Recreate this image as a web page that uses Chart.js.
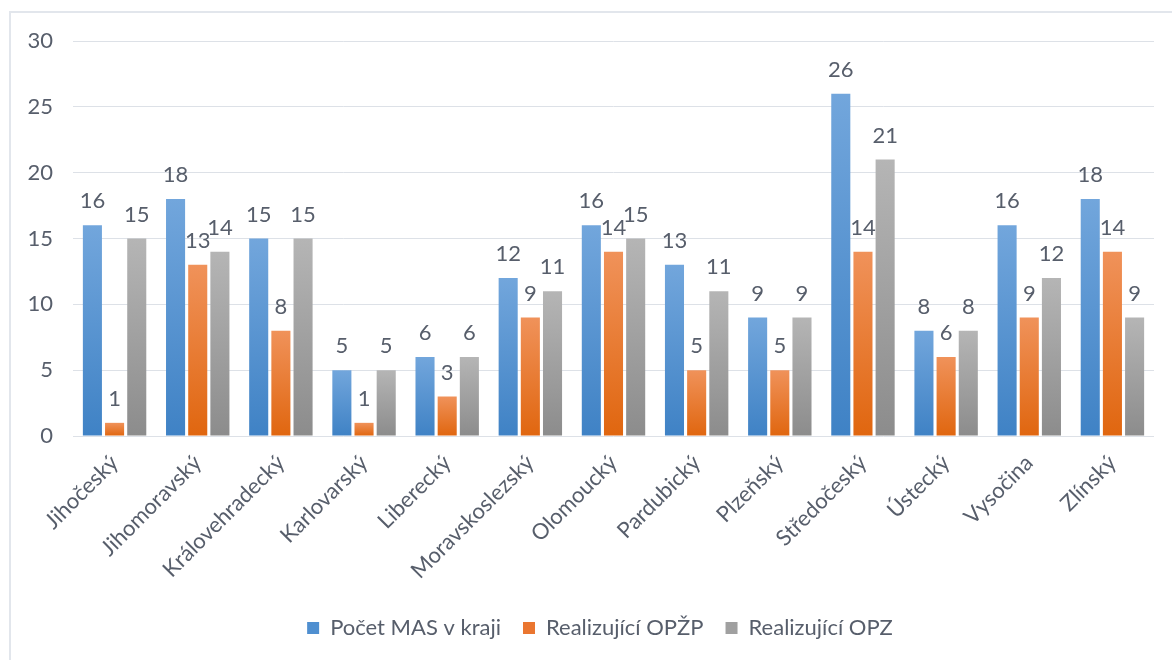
<!DOCTYPE html>
<html>
<head>
<meta charset="utf-8">
<script src="https://cdn.jsdelivr.net/npm/chart.js@4"></script>
<style>
  body { margin: 0; background: #fff; }
  #wrap { position: relative; width: 1172px; height: 660px; overflow: hidden; }
  #frame { position: absolute; left: 9px; top: 11px; width: 2000px; height: 2000px;
           border-left: 2px solid #e2e6ec; border-top: 2px solid #e2e6ec; }
  canvas { position: absolute; left: 0; top: 0; }
</style>
</head>
<body>
<div id="wrap">
  <div id="frame"></div>
  <canvas id="masChart" width="1172" height="660"></canvas>
</div>
<script>
var kraje = ['Jihočeský', 'Jihomoravský', 'Královehradecký', 'Karlovarský', 'Liberecký',
  'Moravskoslezský', 'Olomoucký', 'Pardubický', 'Plzeňský', 'Středočeský', 'Ústecký',
  'Vysočina', 'Zlínský'];
var pocetMas = [16, 18, 15, 5, 6, 12, 16, 13, 9, 26, 8, 16, 18];
var opzp = [1, 13, 8, 1, 3, 9, 14, 5, 5, 14, 6, 9, 14];
var opz = [15, 14, 15, 5, 6, 11, 15, 11, 9, 21, 8, 12, 9];
var yTicks = [0, 5, 10, 15, 20, 25, 30];

var textColor = '#575e6b';

// gradient per bar, light at the top, darker at the base
function barGradient(top, bottom) {
  return function (c) {
    var chart = c.chart;
    if (!chart.chartArea || c.raw === undefined) return bottom;
    var y = chart.scales.y;
    var g = chart.ctx.createLinearGradient(0, y.getPixelForValue(c.raw), 0, y.getPixelForValue(0));
    g.addColorStop(0, top);
    g.addColorStop(1, bottom);
    return g;
  };
}

var valueLabels = {
  id: 'valueLabels',
  afterDatasetsDraw: function (chart) {
    var ctx = chart.ctx;
    ctx.save();
    ctx.font = '22px Lato';
    ctx.fillStyle = textColor;
    ctx.textAlign = 'center';
    ctx.textBaseline = 'alphabetic';
    chart.data.datasets.forEach(function (ds, i) {
      chart.getDatasetMeta(i).data.forEach(function (bar, j) {
        ctx.fillText(ds.data[j], bar.x, bar.y - 17);
      });
    });
    ctx.restore();
  }
};

// legend sits a bit right of the canvas centre in the original
var legendShift = {
  id: 'legendShift',
  afterLayout: function (chart) {
    chart.legend.left += 23;
    chart.legend.right += 23;
  }
};

var ctx = document.getElementById('masChart').getContext('2d');
var chart = new Chart(ctx, {
  type: 'bar',
  data: {
    labels: kraje,
    datasets: [{
      label: 'Počet MAS v kraji',
      data: pocetMas,
      backgroundColor: barGradient('#72a6dc', '#3f82c5')
    }, {
      label: 'Realizující OPŽP',
      data: opzp,
      backgroundColor: barGradient('#f0925a', '#e0660f')
    }, {
      label: 'Realizující OPZ',
      data: opz,
      backgroundColor: barGradient('#b5b5b5', '#8c8c8c')
    }]
  },
  options: {
    responsive: false,
    animation: false,
    layout: { padding: { top: 41, right: 18, bottom: 11, left: 0 } },
    categoryPercentage: 0.8,
    barPercentage: 0.86,
    scales: {
      x: {
        grid: { display: false },
        border: { display: false },
        ticks: {
          color: textColor,
          font: { family: 'Lato', size: 22 },
          maxRotation: 45,
          minRotation: 45,
          padding: 6,
          autoSkip: false
        },
        afterFit: function (scale) { scale.height = 159; }
      },
      y: {
        min: 0,
        max: 30,
        afterBuildTicks: function (scale) {
          scale.ticks = yTicks.map(function (v) { return { value: v }; });
        },
        grid: { color: '#dde1e7', drawTicks: false },
        border: { display: false },
        ticks: {
          color: textColor,
          font: { family: 'Lato', size: 22 },
          padding: 20
        },
        afterFit: function (scale) { scale.width = 73; }
      }
    },
    plugins: {
      legend: {
        position: 'bottom',
        labels: {
          color: textColor,
          font: { family: 'Lato', size: 22 },
          boxWidth: 12,
          boxHeight: 12,
          padding: 22,
          generateLabels: function (chart) {
            var cols = ['#4f8fd0', '#ea7630', '#a0a0a0'];
            return chart.data.datasets.map(function (ds, i) {
              return { text: ds.label, fillStyle: cols[i], strokeStyle: cols[i], lineWidth: 0,
                       fontColor: textColor, datasetIndex: i };
            });
          }
        }
      },
      tooltip: { enabled: false }
    }
  },
  plugins: [valueLabels, legendShift]
});
</script>
</body>
</html>
